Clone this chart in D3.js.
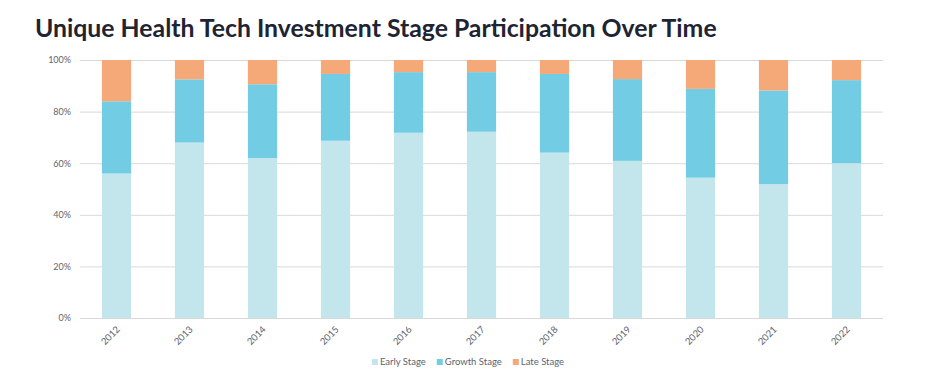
<!DOCTYPE html>
<html><head><meta charset="utf-8">
<script src="https://cdn.jsdelivr.net/npm/d3@7"></script>
<style>body{margin:0;background:#fff;}svg{display:block;font-family:Lato,sans-serif;}</style>
</head><body>
<svg id="chart" width="936" height="387"></svg>
<script>
const years = ["2012","2013","2014","2015","2016","2017","2018","2019","2020","2021","2022"];
const early = [56, 68, 62, 68.7, 71.8, 72.2, 64.1, 60.9, 54.4, 51.9, 60];
const growth = [28, 24.5, 28.6, 25.9, 23.5, 23.1, 30.5, 31.7, 34.4, 36.3, 32.2];
const late = [16, 7.5, 9.4, 5.4, 4.7, 4.7, 5.4, 7.4, 11.2, 11.8, 7.8];
const seriesNames = ["Early Stage","Growth Stage","Late Stage"];
const colors = ["#c3e6ec","#72cde4","#f5a878"];
const yTicks = [0, 20, 40, 60, 80, 100];

const svg = d3.select("#chart");
const m = {left: 80, right: 53, top: 60, bottom: 69};
const W = 936, H = 387;
const x = d3.scaleBand().domain(years).range([m.left, W - m.right]).paddingInner(0.6).paddingOuter(0.3);
const y = d3.scaleLinear().domain([0, 100]).range([H - m.bottom, m.top]);

svg.append("text").attr("x", 35).attr("y", 37).text("Unique Health Tech Investment Stage Participation Over Time")
  .attr("font-size", 24.8).attr("font-weight", 700).attr("fill", "#1e2432");

// grid
svg.append("g").selectAll("line").data(yTicks).join("line")
  .attr("x1", m.left).attr("x2", W - m.right)
  .attr("y1", d => y(d) + 0.5).attr("y2", d => y(d) + 0.5)
  .attr("stroke", "#d9d9d9").attr("stroke-width", 1);

const rows = years.map((yr, i) => ({year: yr, "Early Stage": early[i], "Growth Stage": growth[i], "Late Stage": late[i]}));
const stacked = d3.stack().keys(seriesNames)(rows);

svg.append("g").selectAll("g").data(stacked).join("g").attr("fill", (d, i) => colors[i])
  .selectAll("rect").data(d => d).join("rect")
  .attr("x", d => x(d.data.year)).attr("width", x.bandwidth())
  .attr("y", d => y(Math.min(100, d[1]))).attr("height", d => y(d[0]) - y(Math.min(100, d[1])));

// y axis labels
const ya = svg.append("g").attr("transform", `translate(${m.left},0)`)
  .call(d3.axisLeft(y).tickValues(yTicks).tickFormat(d => d + "%").tickSize(0).tickPadding(9));
ya.select(".domain").remove();
ya.selectAll("text").attr("font-size", 9).attr("fill", "#5b6472").attr("font-family", "Lato, sans-serif");

// x axis
const xa = svg.append("g").attr("transform", `translate(0,${H - m.bottom})`)
  .call(d3.axisBottom(x).tickSize(0).tickPadding(0));
xa.select(".domain").remove();
xa.selectAll("text").attr("font-size", 9.5).attr("fill", "#5b6472").attr("font-family", "Lato, sans-serif")
  .attr("text-anchor", "end").attr("dy", 0)
  .attr("transform", "translate(4,12) rotate(-45)");

// legend
const legendItems = seriesNames.map((n, i) => ({name: n, color: colors[i]}));
const lg = svg.append("g").attr("font-size", 9.5).attr("fill", "#5b6472");
let lx = 0;
legendItems.forEach(it => {
  const t = lg.append("text").attr("x", lx + 8).attr("y", 0).attr("dy", "0.35em").text(it.name);
  lg.append("rect").attr("x", lx).attr("y", -3).attr("width", 6).attr("height", 6).attr("fill", it.color);
  lx += 8 + t.node().getComputedTextLength() + 11;
});
const total = lx - 11;
lg.attr("transform", `translate(${(W - total) / 2},362)`);
</script>
</body></html>
